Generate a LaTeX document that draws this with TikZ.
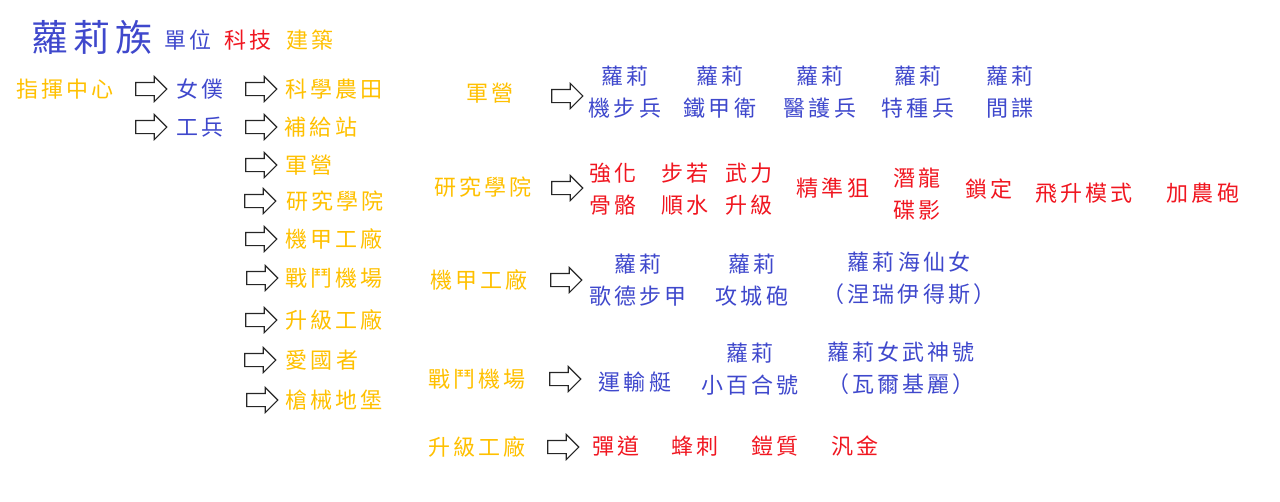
\documentclass[tikz,border=0pt]{standalone}
\usepackage{fontspec}
\usepackage{tikz}
\usetikzlibrary{
    shapes.arrows
}
\newfontfamily\zhfont[LetterSpace=14]{Noto Sans CJK TC}
\definecolor{unitblue}{RGB}{63,72,204}
\definecolor{techred}{RGB}{240,22,32}
\definecolor{bldgyellow}{RGB}{255,192,0}
\tikzset{
    lbl/.style={inner sep=0pt,align=center,font=\zhfont\fontsize{22}{32}\selectfont},
    unit/.style={lbl,text=unitblue},
    tech/.style={lbl,text=techred},
    bldg/.style={lbl,text=bldgyellow},
    blockarrow/.style={single arrow,draw=black!85,fill=white,line width=1.1pt,
        inner xsep=0pt,inner ysep=6pt,minimum height=31pt,
        single arrow head extend=6pt}
}
\begin{document}
\begin{tikzpicture}[x=1pt,y=-1pt]
\useasboundingbox (0,0) rectangle (1280,501);
%\draw [help lines,step=20](0,0) grid (1280,501);
% title
\node [unit,font=\zhfont\fontsize{37}{40}\selectfont] (title) at (92,37) {蘿莉族};
\node [unit] (kUnit) at (188,40) {單位};
\node [tech] (kTech) at (248,40) {科技};
\node [bldg] (kBldg) at (310,40) {建築};
% build tree
\node [bldg] (hq) at (65,89) {指揮中心};
\node [blockarrow] (a1) at (148,89) {};
\node [unit] (maid) at (200,89) {女僕};
\node [blockarrow] (a2) at (148,127) {};
\node [unit] (eng) at (200,127) {工兵};
\node [blockarrow] (b1) at (258,89) {};
\node [bldg] (farm) at (334,89) {科學農田};
\node [blockarrow] (b2) at (258,127) {};
\node [bldg] (supply) at (321,127) {補給站};
\node [blockarrow] (b3) at (258,165) {};
\node [bldg] (barracks) at (309,165) {軍營};
\node [blockarrow] (b4) at (257,201) {};
\node [bldg] (academy) at (335,201) {研究學院};
\node [blockarrow] (b5) at (258,239) {};
\node [bldg] (mechfac) at (334,239) {機甲工廠};
\node [blockarrow] (b6) at (259,278) {};
\node [bldg] (airfield) at (334,278) {戰鬥機場};
\node [blockarrow] (b7) at (258,320) {};
\node [bldg] (upgfac) at (334,320) {升級工廠};
\node [blockarrow] (b8) at (257,360) {};
\node [bldg] (patriot) at (322,360) {愛國者};
\node [blockarrow] (b9) at (259,400) {};
\node [bldg] (bunker) at (334,400) {槍械地堡};
% barracks
\node [bldg] (rBarracks) at (490,93) {軍營};
\node [blockarrow] (c1) at (564,96) {};
\node [unit] (inf) at (625,92) {蘿莉\\機步兵};
\node [unit] (guard) at (720,92) {蘿莉\\鐵甲衛};
\node [unit] (medic) at (820,92) {蘿莉\\醫護兵};
\node [unit] (spec) at (918,92) {蘿莉\\特種兵};
\node [unit] (spy) at (1010,92) {蘿莉\\間諜};
% academy
\node [bldg] (rAcademy) at (483,187) {研究學院};
\node [blockarrow] (c2) at (564,188) {};
\node [tech] (bone) at (613,189) {強化\\骨骼};
\node [tech] (flow) at (685,189) {步若\\順水};
\node [tech] (force) at (749,189) {武力\\升級};
\node [tech] (snipe) at (833,188) {精準狙};
\node [tech] (saucer) at (917,194) {潛龍\\碟影};
\node [tech] (lock) at (989,189) {鎖定};
\node [tech] (ascend) at (1084,193) {飛升模式};
\node [tech] (cannon) at (1203,193) {加農砲};
% mech factory
\node [bldg] (rMechfac) at (479,280) {機甲工廠};
\node [blockarrow] (c3) at (563,280) {};
\node [unit] (goth) at (638,280) {蘿莉\\歌德步甲};
\node [unit] (siege) at (752,280) {蘿莉\\攻城砲};
\node [unit] (nereid) at (909,278) {蘿莉海仙女\\（涅瑞伊得斯）};
% airfield
\node [bldg] (rAirfield) at (477,379) {戰鬥機場};
\node [blockarrow] (c4) at (562,379) {};
\node [unit] (shuttle) at (635,382) {運輸艇};
\node [unit] (lily) at (750,369) {蘿莉\\小百合號};
\node [unit] (valk) at (901,368) {蘿莉女武神號\\（瓦爾基麗）};
% upgrade factory
\node [bldg] (rUpgfac) at (477,447) {升級工廠};
\node [blockarrow] (c5) at (560,447) {};
\node [tech] (ballistic) at (616,446) {彈道};
\node [tech] (sting) at (695,446) {蜂刺};
\node [tech] (armor) at (775,446) {鎧質};
\node [tech] (gold) at (855,446) {汎金};
\end{tikzpicture}
\end{document}
